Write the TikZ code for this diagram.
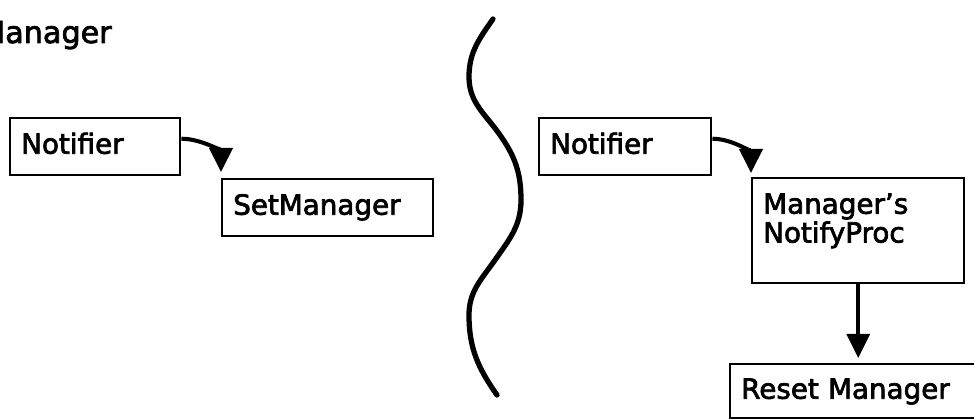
\documentclass[tikz,border=0pt]{standalone}
\usepackage{fontspec}
\setmainfont{DejaVu Sans}[FakeBold=2.5]
\usetikzlibrary{arrows.meta,positioning}

\tikzset{
  procbox/.style={draw, line width=1.4pt, anchor=north west, align=left,
    inner xsep=0.22cm, inner ysep=0pt, text height=0.71cm, text depth=0.43cm,
    font=\fontsize{15.8}{16.4}\selectfont},
  flow/.style={line width=2.3pt, -{Triangle[length=0.48cm,width=0.46cm]}},
  wave/.style={line width=3pt, line cap=round},
}

\begin{document}
\begin{tikzpicture}
    % Page size
    \def\pagewidth{19.48}
    \def\pageheight{8.38}
    \useasboundingbox (0,0) rectangle (\pagewidth,\pageheight);
    \clip (0,0) rectangle (\pagewidth,\pageheight);

    % Heading
    \node[anchor=base east, inner sep=0pt, font=\fontsize{17.2}{18}\selectfont] (title) at (2.24,7.52) {Manager};

    % Left side: notifier calls SetManager
    \node[procbox, text width=2.96cm] (notifierA) at (0.18,6.04) {Notifier};
    \node[procbox, text width=3.78cm] (setmanager) at (4.42,4.82) {SetManager};

    % Right side: notifier calls the manager's proc
    \node[procbox, text width=3.00cm] (notifierB) at (10.76,6.04) {Notifier};
    \node[procbox, text width=3.80cm, text depth=1.39cm] (notifyproc) at (15.02,4.84) {Manager's\\NotifyProc};
    \node[procbox, text width=4.66cm, text height=0.69cm, text depth=0.39cm] (resetmanager) at (14.58,1.12) {Reset Manager};

    % Arrows
    \draw[flow] ([yshift=0.16cm]notifierA.east) to[out=0,in=90] ([yshift=0.12cm]setmanager.north west);
    \draw[flow] ([yshift=0.16cm]notifierB.east) to[out=0,in=90] ([yshift=0.08cm]notifyproc.north west);
    \draw[flow, line width=2pt, shorten >=0.1cm] (notifyproc.south) -- (notifyproc.south |- resetmanager.north);

    % Wavy divider
    \draw[wave] (9.86,8.00) to[out=235,in=90] (9.38,6.84) to[out=270,in=125] (10.00,5.68)
        to[out=-55,in=90] (10.42,4.38) to[out=270,in=55] (9.90,3.18)
        to[out=235,in=90] (9.38,2.08) to[out=270,in=125] (9.94,0.48);
\end{tikzpicture}
\end{document}
